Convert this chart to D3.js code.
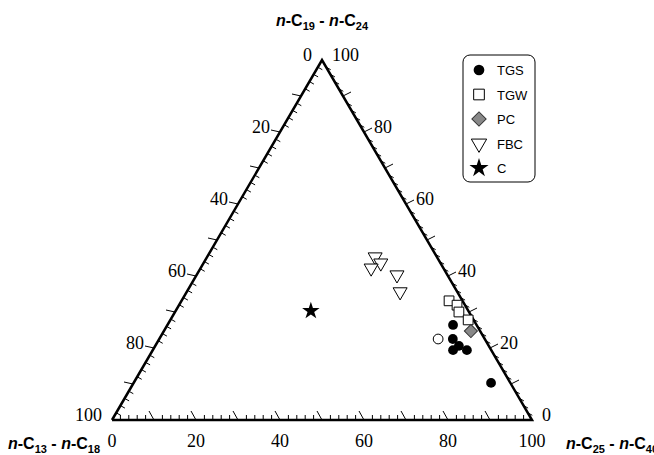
<!DOCTYPE html>
<html><head><meta charset="utf-8">
<script src="https://cdn.jsdelivr.net/npm/d3@7"></script>
<style>body{margin:0;background:#fff}</style></head>
<body><svg id="c" width="654" height="455"></svg>
<script>
// ternary values: [C25-C40, C19-C24] in %, C13-C18 is the rest
const tgs = [[68.0,26.4],[69.9,22.5],[72.3,20.6],[71.5,19.4],[74.8,19.4],[85.1,10.3]];
const tgsOpen = [[66.4,22.5]];
const tgw = [[63.7,33.1],[66.2,31.9],[67.6,30.0],[70.9,27.8]];
const pc = [[73.1,24.7]];
const fbc = [[40.0,45.3],[42.2,43.6],[40.6,42.2],[47.7,40.3],[50.8,35.6]];
const cc = [[32.2,30.3]];
const ticks = [0,20,40,60,80,100];
const legendItems = ["TGS","TGW","PC","FBC","C"];

const svg = d3.select("#c");
const L = [112,420], R = [532,420], T = [322,60];
const sx = d3.scaleLinear().domain([0,100]).range([0,1]);
function pos(r, t) {
  const a = sx(r), b = sx(t), l = 1 - a - b;
  return [l*L[0]+a*R[0]+b*T[0], l*L[1]+a*R[1]+b*T[1]];
}

// ticks: bottom (value = C25), left (value = C13 from top), right (value = C19)
const g = svg.append("g").attr("stroke","#000").attr("stroke-width",1);
function tk(p, dx, dy) {
  g.append("line").attr("x1",p[0]).attr("y1",p[1]).attr("x2",p[0]+dx).attr("y2",p[1]+dy);
}
for (let v = 2; v < 100; v += 2) {
  const major = v % 10 === 0;
  if (major) {
    tk(pos(v, 0), -5, -9);
    tk(pos(0, 100 - v), -9, -2);
    tk(pos(100 - v, v), 8, -4);
  } else {
    tk(pos(v, 0), 0, -5);
    tk(pos(0, 100 - v), 4.5, 2.5);
    tk(pos(100 - v, v), 4.5, 2.5);
  }
}
svg.append("path").attr("d", d3.line()([L,R,T,L])).attr("fill","none")
  .attr("stroke","#000").attr("stroke-width",2.5).attr("stroke-linejoin","miter");

const serif = "Liberation Serif, Times New Roman, serif";
ticks.forEach(v => {
  let p = pos(v, 0);
  svg.append("text").attr("x",p[0]).attr("y",p[1]+27).attr("text-anchor","middle")
    .attr("font-family",serif).attr("font-size",18).text(v);
  p = pos(0, 100 - v);
  svg.append("text").attr("x",p[0]-10).attr("y",p[1]+1).attr("text-anchor","end")
    .attr("font-family",serif).attr("font-size",18).text(v);
  p = pos(100 - v, v);
  svg.append("text").attr("x",p[0]+10).attr("y",p[1]+1)
    .attr("font-family",serif).attr("font-size",18).text(v);
});

function title(x, y, a, b, anchor) {
  const t = svg.append("text").attr("x",x).attr("y",y).attr("text-anchor",anchor)
    .attr("font-family","Liberation Sans, Arial, sans-serif").attr("font-weight","bold").attr("font-size",16);
  t.append("tspan").attr("font-style","italic").text("n");
  t.append("tspan").text("-C");
  t.append("tspan").attr("font-size",11).attr("dy",4).text(a);
  t.append("tspan").attr("dy",-4).text(" - ");
  t.append("tspan").attr("font-style","italic").text("n");
  t.append("tspan").text("-C");
  t.append("tspan").attr("font-size",11).attr("dy",4).text(b);
}
title(322, 26, "19", "24", "middle");
title(8, 449, "13", "18", "start");
title(566, 449, "25", "40", "start");

const sym = {
  TGS: {t:d3.symbolCircle, s:75, f:"#000", st:"none"},
  TGW: {t:d3.symbolSquare, s:95, f:"#fff", st:"#000"},
  PC: {t:d3.symbolSquare, s:85, f:"#888", st:"#333", rot:45},
  FBC: {t:d3.symbolTriangle, s:85, f:"#fff", st:"#000", rot:180},
  C: {t:d3.symbolStar, s:95, f:"#000", st:"none"},
  O: {t:d3.symbolCircle, s:75, f:"#fff", st:"#000"}
};
function draw(data, k) {
  const m = sym[k];
  svg.append("g").selectAll("path").data(data).join("path")
    .attr("d", d3.symbol(m.t, m.s))
    .attr("transform", d => { const p = pos(d[0], d[1]); return `translate(${p[0]},${p[1]}) rotate(${m.rot||0})`; })
    .attr("fill", m.f).attr("stroke", m.st).attr("stroke-width", 1);
}
draw(fbc,"FBC"); draw(cc,"C"); draw(tgw,"TGW"); draw(pc,"PC"); draw(tgs,"TGS"); draw(tgsOpen,"O");

const lg = svg.append("g");
lg.append("rect").attr("x",463).attr("y",55).attr("width",72).attr("height",127).attr("rx",7)
  .attr("fill","#fff").attr("stroke","#000").attr("stroke-width",1);
legendItems.forEach((k, i) => {
  const m = sym[k], y = 70 + i*24.5;
  lg.append("path").attr("d", d3.symbol(m.t, m.s*1.2))
    .attr("transform", `translate(479,${y}) rotate(${m.rot||0})`)
    .attr("fill", m.f).attr("stroke", m.st);
  lg.append("text").attr("x",497).attr("y",y+5).attr("font-family","Liberation Sans, Arial, sans-serif")
    .attr("font-size",13).text(k);
});
</script></body></html>
